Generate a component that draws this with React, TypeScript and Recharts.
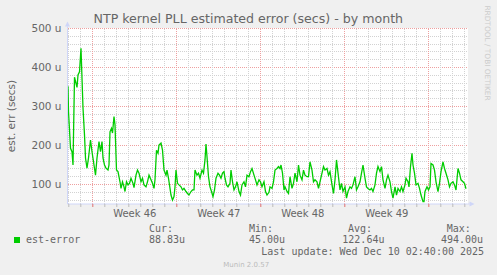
import React from "react";
import { LineChart, Line, XAxis, YAxis, CartesianGrid, ReferenceLine, ReferenceDot } from "recharts";

// hours after the left edge of the graph (Fri 7 Nov ~21:20), one entry per sample
const sampleHours = [
  1, 2, 6, 9, 11, 14, 19, 21, 24, 27, 31, 34, 36, 39, 42, 46, 49, 53, 56, 59, 63, 66, 69,
  71, 74, 77, 81, 83, 85, 88, 90, 93, 95, 98, 101, 105, 107, 110, 113, 115, 118, 121, 124,
  127, 131, 133,
  137, 140, 143, 147, 150, 153, 157, 160, 163, 167, 170, 173, 175, 178, 181, 183, 187, 190,
  193, 197, 199, 202, 205, 207, 210, 213, 215, 217, 220, 223, 227, 230, 233, 237, 240, 243,
  247, 250, 253, 255, 259, 262, 265,
  269, 272, 275, 277, 279, 282, 285, 288, 291, 294, 297, 301, 304, 307, 310, 313, 315, 318,
  321, 325, 327, 330, 333, 336, 339, 343, 346, 349, 353, 356, 359, 363, 366, 369, 373, 376,
  379, 383, 386, 389, 393, 396, 399, 403,
  405, 409, 412, 415, 419, 422, 425, 427, 430, 433, 435, 439, 442, 445, 449, 452, 455, 459,
  462, 465, 469, 472, 475, 479, 482, 485, 489, 492, 495, 499, 502, 505, 509, 512, 515, 519,
  522, 525, 529, 532, 535, 538,
  541, 545, 548, 551, 555, 558, 561, 565, 568, 571, 575, 578, 581, 585, 588, 591, 595, 598,
  601, 605, 608, 611, 615, 618, 621, 625, 628, 631, 635, 638, 641, 645, 648, 651, 655, 658,
  661, 665, 668, 671, 675, 677,
  681, 683, 686, 689, 691, 694, 697, 701, 704, 707, 711, 713, 715, 719, 722, 725, 727, 731,
  734, 737, 741, 744, 747, 751, 754, 757, 761, 764, 767, 771, 774, 777, 781, 784, 787, 791,
  794, 797,
];

// est-error in micro-seconds
const estErrorMicro = [
  352, 287, 193, 184, 150, 375, 349, 381, 389, 449, 296, 227, 168, 142, 168, 214, 184, 150,
  124, 168, 210, 184, 210, 168, 150, 142, 137, 150, 235, 244, 232, 274, 253, 137, 133, 107,
  90, 107, 94, 82, 107, 99, 103, 116, 103, 92,
  124, 137, 129, 107, 116, 99, 94, 107, 124, 112, 103, 90, 112, 188, 180, 201, 206, 188, 137,
  124, 137, 116, 90, 73, 60, 69, 94, 137, 103, 99, 94, 86, 90, 82, 77, 73, 82, 86, 86, 137,
  124, 129, 116,
  137, 129, 163, 204, 171, 120, 94, 82, 69, 86, 116, 129, 124, 116, 129, 133, 116, 99, 94,
  103, 137, 107, 86, 94, 107, 82, 73, 99, 107, 94, 124, 120, 133, 141, 124, 112, 99, 112,
  107, 94, 107, 82, 73, 80,
  94, 90, 107, 137, 141, 146, 141, 150, 129, 86, 94, 82, 77, 120, 90, 103, 129, 107, 150,
  124, 112, 137, 124, 120, 120, 158, 137, 107, 112, 107, 90, 107, 129, 146, 137, 141, 124,
  133, 99, 77, 112, 163,
  130, 86, 103, 82, 94, 65, 82, 94, 90, 99, 120, 86, 94, 107, 129, 150, 116, 94, 90, 86, 90,
  82, 99, 129, 146, 133, 146, 112, 90, 112, 124, 107, 82, 65, 94, 73, 90, 82, 94, 82, 99, 116,
  107, 94, 146, 180, 150, 129, 99, 103, 90, 73, 56, 56, 82, 94, 86, 94, 154, 150, 137, 107,
  82, 103, 133, 158, 141, 129, 112, 94, 103, 107, 99, 86, 141, 129, 112, 107, 103, 89,
];

const yTicks = [100, 200, 300, 400, 500];
const weekLabels = ["Week 46", "Week 47", "Week 48", "Week 49"];
const statLabels = ["Cur:", "Min:", "Avg:", "Max:"];
const statValues = ["88.83u", "45.00u", "122.64u", "494.00u"];
const seriesName = "est-error";
const lastUpdate = "Last update: Wed Dec 10 02:40:00 2025";

const spanHours = 800;
const firstWeekStart = 50.6; // Mon 10 Nov 00:00

const data = sampleHours.map((h, i) => ({ h, err: estErrorMicro[i] }));

const dayLines: number[] = [];
for (let t = firstWeekStart - 48; t <= spanHours; t += 24) dayLines.push(t);
const weekLines = dayLines.filter((_, i) => i % 7 === 2);
const weekMids = weekLabels.map((_, i) => firstWeekStart + 84 + i * 168);
const minorY: number[] = [];
for (let v = 60; v <= 500; v += 20) if (v % 100 !== 0) minorY.push(v);

const FONT = "'DejaVu Sans', sans-serif";
const MONO = "'DejaVu Sans Mono', monospace";
const TEXT = "#666666";
const AXIS = "#cfd6f8";
const MGRID = "#eea0a0";
const GRID = "#d2d2d2";
const GREEN = "#00cc00";

function TimeTick(props: any) {
  const { x, y, payload } = props;
  const i = weekMids.indexOf(payload.value);
  if (i >= 0) {
    return (
      <text x={x} y={y + 13} textAnchor="middle" fontSize={10} fontFamily={FONT} fill={TEXT}>
        {weekLabels[i]}
      </text>
    );
  }
  const major = weekLines.includes(payload.value);
  return <line x1={x} x2={x} y1={y} y2={y + 3} stroke={major ? "#e07070" : "#bbbbbb"} />;
}

function ValueTick(props: any) {
  const { x, y, payload } = props;
  return (
    <text x={x} y={y + 3.7} textAnchor="end" fontSize={10.5} fontFamily={FONT} fill={TEXT}>
      {`${payload.value} u`}
    </text>
  );
}

const UpArrow = (p: any) => (
  <g>
    <line x1={p.cx} x2={p.cx} y1={p.cy} y2={p.cy - 2} stroke={AXIS} />
    <path d={`M${p.cx - 2.5},${p.cy - 2} L${p.cx + 2.5},${p.cy - 2} L${p.cx},${p.cy - 7} Z`} fill={AXIS} />
  </g>
);
const RightArrow = (p: any) => (
  <g>
    <line x1={p.cx} x2={p.cx + 2} y1={p.cy} y2={p.cy} stroke={AXIS} />
    <path d={`M${p.cx + 2},${p.cy - 2.5} L${p.cx + 2},${p.cy + 2.5} L${p.cx + 7},${p.cy} Z`} fill={AXIS} />
  </g>
);

export default function App() {
  return (
    <div style={{ position: "absolute", left: 0, top: 0, width: 497, height: 275, background: "#f0f0f0" }}>
      <div style={{ position: "absolute", left: 67, top: 28, width: 401, height: 176, background: "#ffffff" }} />
      <div style={{ position: "absolute", left: 0, top: 0 }}>
        <LineChart width={497} height={275} data={data} margin={{ top: 28.5, right: 29.5, bottom: 51, left: 7.5 }}>
          <CartesianGrid vertical={false} horizontalValues={minorY} stroke={GRID} strokeDasharray="1 1" shapeRendering="crispEdges" />
          <CartesianGrid vertical={false} horizontalValues={yTicks} stroke={MGRID} strokeDasharray="1 1" shapeRendering="crispEdges" />
          <XAxis
            dataKey="h"
            type="number"
            domain={[0, spanHours]}
            ticks={[...dayLines, ...weekMids].sort((a, b) => a - b)}
            interval={0}
            height={20}
            tickSize={0}
            tickMargin={0}
            tickLine={false}
            axisLine={{ stroke: AXIS }}
            tick={TimeTick}
            allowDataOverflow
          />
          <YAxis
            type="number"
            domain={[50, 500]}
            ticks={yTicks}
            interval={0}
            width={60}
            tickSize={0}
            tickMargin={6}
            tickLine={false}
            axisLine={{ stroke: AXIS }}
            tick={ValueTick}
            allowDataOverflow
          />
          {dayLines.filter((t) => !weekLines.includes(t)).map((t) => (
            <ReferenceLine key={`dx${t}`} x={t} stroke={GRID} strokeDasharray="1 1" shapeRendering="crispEdges" />
          ))}
          {weekLines.map((t) => (
            <ReferenceLine key={`wx${t}`} x={t} stroke={MGRID} strokeDasharray="1 1" shapeRendering="crispEdges" />
          ))}
          <Line
            type="linear"
            dataKey="err"
            stroke={GREEN}
            strokeWidth={1.3}
            dot={false}
            activeDot={false}
            isAnimationActive={false}
          />
          <ReferenceDot x={0} y={500} r={0} shape={UpArrow} />
          <ReferenceDot x={spanHours} y={50} r={0} shape={RightArrow} />
        </LineChart>
      </div>
      <svg width={497} height={275} style={{ position: "absolute", left: 0, top: 0, pointerEvents: "none" }}>
        <text x={248.3} y={23} textAnchor="middle" fontSize={12.6} fontFamily={FONT} fill={TEXT}>
          NTP kernel PLL estimated error (secs) - by month
        </text>
        <text x={15} y={116} transform="rotate(-90 15 116)" textAnchor="middle" fontSize={10.5} fontFamily={FONT} fill={TEXT}>
          est. err (secs)
        </text>
        <text x={485} y={53} transform="rotate(90 485 53)" textAnchor="middle" fontSize={7.4} fontFamily={FONT} fill="#cccccc">
          RRDTOOL / TOBI OETIKER
        </text>
        <rect x={14} y={237} width={6} height={6} fill={GREEN} />
        <text x={26} y={243} fontSize={10} fontFamily={MONO} fill={TEXT}>{seriesName}</text>
        {statLabels.map((s, i) => (
          <text key={s} x={[149, 249, 348, 446.7][i]} y={231.5} fontSize={10} fontFamily={MONO} fill={TEXT}>{s}</text>
        ))}
        {statValues.map((s, i) => (
          <text key={s} x={[149, 249, 342.3, 441][i]} y={243} fontSize={10} fontFamily={MONO} fill={TEXT}>{s}</text>
        ))}
        <text x={261.3} y={255} fontSize={10} fontFamily={MONO} fill={TEXT}>{lastUpdate}</text>
        <text x={223.3} y={266.5} fontSize={7} fontFamily={FONT} fill="#bbbbbb">Munin 2.0.57</text>
      </svg>
    </div>
  );
}
